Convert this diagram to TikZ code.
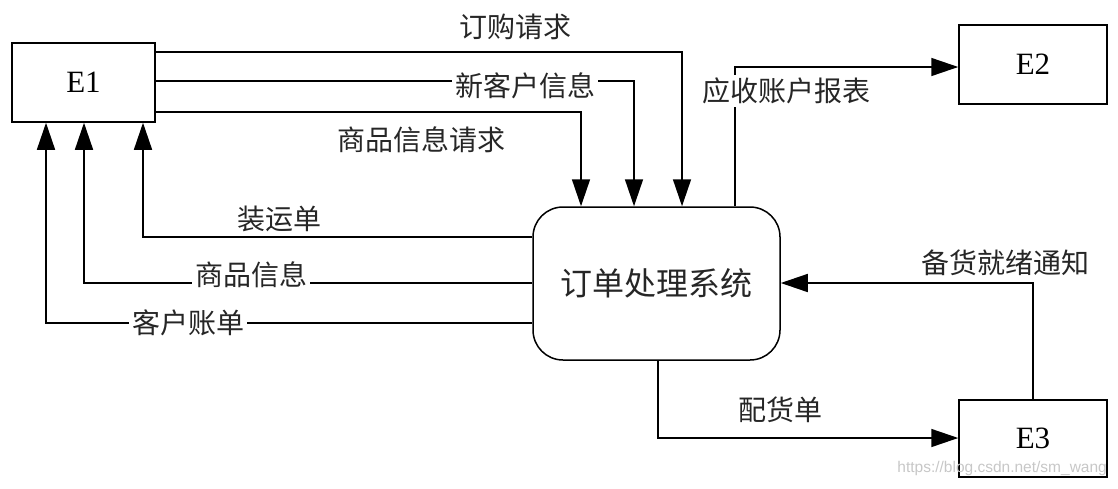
\documentclass[tikz,border=0pt]{standalone}
\usepackage{fontspec}
\setmainfont{Liberation Serif}
\newfontfamily\cjk{Noto Sans CJK SC}
\newfontfamily\wmfont{Liberation Sans}
\usetikzlibrary{arrows.meta}

\tikzset{
    ent/.style={draw, line width=1.5pt, minimum height=79pt, inner sep=0pt,
        font=\fontsize{31}{34}\selectfont},
    flow/.style={line width=1.5pt, -{Triangle[length=27pt,width=18pt]}},
    lbl/.style={font=\cjk\fontsize{28}{30}\selectfont, text=black!85, inner sep=1pt},
    gap/.style={lbl, fill=white, inner sep=3pt},
}

\begin{document}
\begin{tikzpicture}[x=1pt, y=-1pt]

    % 枠の定義
    \useasboundingbox (0,0) rectangle (1118,488);

    % 点の定義
    \coordinate (a1) at (682,52);
    \coordinate (a2) at (634,81);
    \coordinate (a3) at (581,112);
    \coordinate (b1) at (143,237);
    \coordinate (b2) at (84,283);
    \coordinate (b3) at (46,323);
    \coordinate (c) at (735,67);
    \coordinate (d) at (658,438);
    \coordinate (e) at (1033,283);

    % 箱の描画
    \node [ent, minimum width=143pt] (E1) at (83.5,82.5) {E1};
    \node [ent, minimum width=148pt] (E2) at (1033,64.5) {E2};
    \node [ent, minimum width=148pt, minimum height=77pt] (E3) at (1033,438.5) {E3};
    \node [draw, line width=1.5pt, rounded corners=30pt, minimum width=247pt,
        minimum height=153pt, font=\cjk\fontsize{32}{34}\selectfont, text=black!85]
        (S) at (656.5,283.5) {订单处理系统};

    % 線分の描画
    \draw [flow] (E1.east |- a1) -| (S.north -| a1);
    \draw [flow] (E1.east |- a2) -| (S.north -| a2);
    \draw [flow] (E1.east |- a3) -| (S.north -| a3);
    \draw [flow] (S.west |- b1) -| (E1.south -| b1);
    \draw [flow] (S.west |- b2) -| (E1.south -| b2);
    \draw [flow] (S.west |- b3) -| (E1.south -| b3);
    \draw [flow] (S.north -| c) |- (E2.west |- c);
    \draw [flow] (S.south -| d) |- (E3.west |- d);
    \draw [flow] (E3.north -| e) |- (S.east |- e);

    % ラベルの描画
    \node [lbl] (l1) at (515,27) {订购请求};
    \node [gap] (l2) at (525,86) {新客户信息};
    \node [lbl] (l3) at (421,140) {商品信息请求};
    \node [gap] (l4) at (786,91) {应收账户报表};
    \node [lbl] (l5) at (279,219) {装运单};
    \node [gap] (l6) at (251,275) {商品信息};
    \node [gap] (l7) at (188,323) {客户账单};
    \node [lbl] (l8) at (1005,263) {备货就绪通知};
    \node [lbl] (l9) at (780,410) {配货单};
    \node [font=\wmfont\fontsize{15.5}{17}\selectfont, text=black!22, anchor=east,
        inner sep=0pt] (wm) at (1107,468) {https://blog.csdn.net/sm\_wang};

\end{tikzpicture}
\end{document}
